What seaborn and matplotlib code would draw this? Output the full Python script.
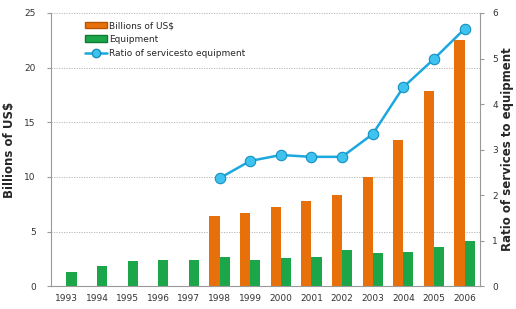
import numpy as np
import pandas as pd
import seaborn as sns
from matplotlib import pyplot as plt
from matplotlib.lines import Line2D
from matplotlib.patches import Patch

years = ['1993', '1994', '1995', '1996', '1997', '1998', '1999',
         '2000', '2001', '2002', '2003', '2004', '2005', '2006']
services = [np.nan, np.nan, np.nan, np.nan, np.nan, 6.4, 6.7,
            7.2, 7.8, 8.3, 10.0, 13.4, 17.9, 22.5]
equipment = [1.3, 1.8, 2.3, 2.4, 2.4, 2.7, 2.4,
             2.6, 2.7, 3.3, 3.0, 3.1, 3.6, 4.1]
ratio = [np.nan, np.nan, np.nan, np.nan, np.nan, 2.37, 2.75,
         2.88, 2.84, 2.84, 3.34, 4.37, 4.99, 5.65]

orange = '#E8700A'
green = '#1CA64A'
blue = '#1BA8DE'
grey = '#999999'

sns.set_style('white')
plt.rcParams['font.family'] = ['DejaVu Sans']

df = pd.DataFrame({
    'year': years * 2,
    'series': ['Billions of US$'] * len(years) + ['Equipment'] * len(years),
    'value': services + equipment,
})

fig = plt.figure(figsize=(5.16, 3.09), dpi=100)
ax = fig.add_axes([0.099, 0.074, 0.831, 0.884])

sns.barplot(data=df, x='year', y='value', hue='series', order=years,
            palette=[orange, green], width=0.66, saturation=1,
            edgecolor='none', ax=ax, legend=False)

ax.set_ylim(0, 25)
ax.set_yticks([0, 5, 10, 15, 20, 25])
ax.set_xlim(-0.5, len(years) - 0.5)
ax.yaxis.grid(True, linestyle=(0, (1.5, 1.5)), color='#b0b0b0', linewidth=0.6)
ax.set_axisbelow(True)
ax.set_xlabel('')
ax.set_ylabel('Billions of US$', fontsize=8.5, fontweight='bold', labelpad=6)
ax.tick_params(axis='both', labelsize=6.5, colors='#333333')
ax.tick_params(axis='y', length=3, color=grey, pad=8)
ax.tick_params(axis='x', length=0, pad=6)
ax.set_xticks(np.arange(len(years)) - 0.5, minor=True)
ax.tick_params(axis='x', which='minor', length=4, color=grey)
for side in ['top', 'right']:
    ax.spines[side].set_visible(False)
for side in ['left', 'bottom']:
    ax.spines[side].set_color(grey)

ax2 = ax.twinx()
ratio_df = pd.DataFrame({'pos': np.arange(len(years)), 'ratio': ratio}).dropna()
sns.lineplot(data=ratio_df, x='pos', y='ratio', color=blue, linewidth=1.8,
             marker='o', markersize=7.5, markerfacecolor='#3EC3F0',
             markeredgecolor='#1590C0', markeredgewidth=0.8, ax=ax2)
ax2.set_ylim(0, 6)
ax2.set_yticks(range(7))
ax2.set_ylabel('Ratio of services to equipment', fontsize=8.5,
               fontweight='bold', labelpad=2)
ax2.tick_params(axis='y', labelsize=6.5, colors='#333333', length=3,
                color=grey, pad=6)
ax2.spines['top'].set_visible(False)
ax2.spines['left'].set_visible(False)
ax2.spines['bottom'].set_visible(False)
ax2.spines['right'].set_color(grey)
ax2.set_xlim(-0.5, len(years) - 0.5)

handles = [
    Patch(facecolor=orange, edgecolor='#b85500'),
    Patch(facecolor=green, edgecolor='#0d7a32'),
    Line2D([0], [0], color=blue, linewidth=1.8, marker='o', markersize=6,
           markerfacecolor='#3EC3F0', markeredgecolor='#1590C0'),
]
labels = ['Billions of US$', 'Equipment', 'Ratio of servicesto equipment']
ax2.legend(handles, labels, loc='upper left', bbox_to_anchor=(0.06, 1.0),
           frameon=False, fontsize=6.5, handlelength=2.4, handleheight=0.8,
           labelspacing=0.55, handletextpad=0.3)

fig.savefig('out.png', dpi=100)
